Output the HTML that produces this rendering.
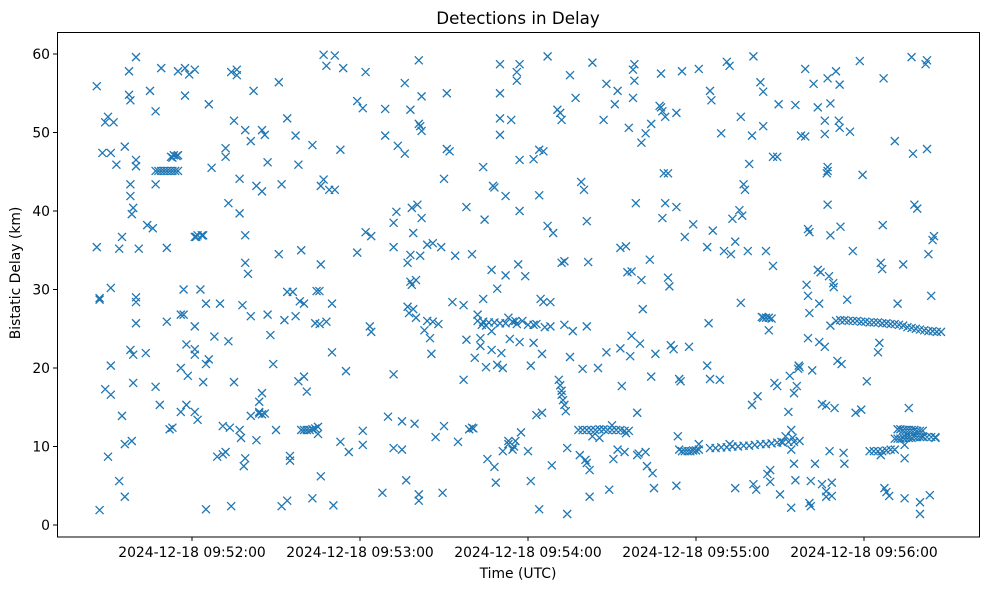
<!DOCTYPE html>
<html><head><meta charset="utf-8"><style>
html,body{margin:0;padding:0;background:#fff;}
svg{display:block;font-family:"DejaVu Sans","Liberation Sans",sans-serif;}
</style></head><body>
<svg id="chart" width="989" height="590" viewBox="0 0 989 590">
<rect x="0" y="0" width="989" height="590" fill="#fff"/>
<text x="518" y="24" font-size="16.7" text-anchor="middle">Detections in Delay</text>
<g id="marks"></g>
<rect x="57.5" y="32.5" width="922" height="504.5" fill="none" stroke="#000" stroke-width="1"/>
<g id="xaxis"></g>
<g id="yaxis"></g>
<text x="518" y="578" font-size="13.9" text-anchor="middle">Time (UTC)</text>
<text transform="translate(20,273) rotate(-90)" font-size="13.9" text-anchor="middle">Bistatic Delay (km)</text>
</svg>
<script>
// seconds after 09:51:00 for x tick positions
const xTickSeconds = [60, 120, 180, 240, 300];
const xTickLabels = ["2024-12-18 09:52:00","2024-12-18 09:53:00","2024-12-18 09:54:00","2024-12-18 09:55:00","2024-12-18 09:56:00"];
const yTickValues = [0, 10, 20, 30, 40, 50, 60];
// detections: [seconds after 09:51:00, bistatic delay km]
const detections = [
[26,55.9],[26,35.4],[27,28.9],[27,28.7],[27,1.9],[29,17.3],[29,51.3],[28,47.4],[30,52],[31,47.4],[30,8.7],[32,51.3],[31,30.2],[31,16.6],[31,20.3],[33,45.9],[34,35.2],[35,36.7],[34,5.6],[35,13.9],[36,48.2],[36,3.6],[36,10.3],[37.5,57.8],[37.5,54.8],[38,54.1],[38,22.3],[38,41.9],[38.5,10.7],[38,43.4],[38.5,39.6],[39,40.4],[39,18.1],[39,21.7],[40,59.6],[40,29],[40,25.7],[40,28.4],[40,46.5],[40,45.7],[41,35.2],[43.5,21.9],[44,38.2],[45,55.3],[46,37.8],[47,52.7],[47,45.1],[47,43.4],[47,17.6],
[48,45.1],[49,45.1],[50,45.1],[51,45.1],[52,45.1],[53,45.1],[54,45.1],[55,45.1],[53,46.8],[54.5,47],
[48.5,15.3],[49,58.2],[51,35.3],[51,25.9],[52,12.2],[52.5,46.9],[53,12.4],[53.5,47.1],[55,57.8],[55,47.1],[56,20],[56,26.8],[56,14.4],[57,30],[57,26.8],[57.5,54.7],[57.5,58.2],[58,23],[58,15.3],[58.5,19],[59,57.4],[61,58],[61,22.4],[61,25.3],[61,21.7],[61,14.4],[61,36.7],[61.5,36.7],[62,36.9],[62,13.4],[63,30],[63.5,36.9],[64,36.9],[64,18.2],[65,2],[65,20.5],[65,28.2],[66,53.6],[66,21.1],[67,45.5],[68,24],[69,8.7],[70,28.2],[71,12.6],[71,9],[72,9.3],[72,46.9],[72,48],[73,41],[73,23.4],[73.5,12.4],[74,57.7],[74,2.4],[75,18.2],[75,51.5],[76,57.3],[76,58],[77,39.7],[77,44.1],[77,12.1],[77.5,11.1],[78,28],[78.5,7.5],[79,50.3],[79,8.5],[79,33.4],[79,36.9],[80,32],[81,13.9],[81,48.9],[81,26.6],[82,55.3],[83,10.8],[83,43.2],[84,15.7],[84,14.4],[85,50.3],[85,14.1],[85,16.8],[85,42.5],[86,49.7],[84,14.2],[86,14.2],[87,46.2],[87,26.8],[88,24.2],[89,20.5],[90,12.1],[91,34.5],[91,56.4],[92,43.4],[92,2.4],[93,26.1],[94,51.8],[94,3.1],[94,29.7],[95,8.8],[95,8.2],[96,29.7],[97,26.6],[97,49.6],[98,45.9],[98.5,28.5],[99,35],[98,18.3],
[99,12.1],[100,12.1],[101,12.1],[102,12.1],[103,12.2],[104,12.3],[105,12.5],
[100,18.9],[100,28.2],[101,17],[103,48.4],[103,3.4],[104,25.7],[104.5,29.8],[105,11.6],[105.5,29.8],[105.6,25.6],[106,6.2],[106,43.2],[106,33.2],[107,44],[107,59.9],[108,25.9],[108,58.5],[109,42.7],[110,28.2],[110,22],[110.5,2.5],[111,42.7],[111,59.8],[113,47.8],[113,10.6],[114,58.2],[115,19.6],[116,9.3],[119,34.7],[119,54],[121,53.1],[121,10.2],[121,12],[122,57.7],[122,37.3],[123.5,25.3],[124,24.6],[124,36.8],[128,4.1],[129,49.6],[129,53],[130,13.8],[132,19.2],[132,9.8],[132,35.4],[132,38.5],[133,39.9],[133.5,48.3],[135,9.6],[135,13.2],[136,47.3],[136,56.3],[136.5,5.7],[137,27.8],[137,33.4],[137.5,27],[138,52.9],[138,34.4],[138,31],[138.5,30.6],[138.5,40.4],[139,37.2],[139,27.5],[139.5,12.9],[140,31.2],[140,26.4],[140.5,40.8],[141,51.1],[141,3.9],[141,3.1],[141,59.2],[141.5,34.3],[141.5,50.8],[142,50.2],[142,39.1],[142,54.6],[143,24.8],[144,35.7],[144,26],[145,23.8],[145.5,21.8],[146,35.9],[146,25.9],[147,11.2],[148,25.6],[149,35.4],[149.5,4.1],[150,44.1],[150,12.6],[151,55],[151,47.9],[152,47.6],[153,28.4],[154,34.3],[155,10.6],[157,28],[157,18.5],[158,40.5],[158,23.6],
[159,12.2],[160,12.4],[160.5,12.3],[160,34.5],[161,21.3],[162,26.8],[163,22.8],[163,23.8],[163.5,25.5],[164,45.6],[164,28.8],[164.5,38.9],[165,25.4],[165,20.1],[165.5,8.4],[167,22.3],[167,32.5],[167,24.7],[167.5,43.2],[168,43],[168,7.4],[168.5,5.4],[169,20.4],[169,30.1],[170,55],[170,58.7],[170,51.8],[170,49.7],[170.5,21.9],[171,9.4],[171,20],[172,31.8],[172,41.9],[173,26.4],[173,10.7],[173,10.3],[173.5,23.7],[174,51.6],[174.5,25.9],[174.5,9.6],[175,10],[175.5,26],[175.5,10.7],[176,56.6],[176,57.7],[176.5,33.2],[177,46.5],[177,58.7],[177,40],[177,23.3],[177.5,11.8],[178,26],[179,31.7],[180,9.4],[181,5.6],[181,20.3],[182,23.2],[182,46.6],[183,25.6],[183,14],[184,42],[184,2],[184,47.8],[184.5,28.8],[185,21.8],[185,14.3],[185.5,47.6],[185.5,28.4],[186,25.2],[187,38.1],[187,59.7],[188,28.4],[188,25.3],[188.5,7.6],[189,37.2],
[162,26],[164,25.9],[166,25.8],[168,25.8],[170,25.7],[172,25.7],[176,25.6],[180,25.5],[182,25.5],
[190.5,52.9],[191,18.5],[191.5,52.5],[191.5,17.8],[192,17.1],[192,51.6],[192,16.6],[192,33.4],[192.5,15.9],[193,15.3],[193,33.6],[193,25.5],[193.5,14.5],[194,9.8],[194,1.4],[195,57.3],[195,21.4],[196,24.7],[197,54.4],
[198,12.1],[199.5,12.1],[201,12.1],[202.5,12.1],[204,12.1],[205.5,12.2],[207,12.2],[208.5,12.1],[210,12.1],[211.5,12.1],[213,12.1],[214.5,12],[216,12],
[198.5,8.9],[199,43.7],[199.5,19.9],[200,42.7],[200.5,8.3],[201,7.9],[201,38.7],[201.5,33.5],[201,25.3],[202,7],[202,3.6],[203,58.9],[203,11.3],[205,20],[205.5,11.1],[207,51.6],[208,56.2],[208,22],[209,4.5],[210,12.7],[210.5,8.4],[212,9.6],[211,53.6],[212,55.3],[213,22.5],[213,35.3],[213.5,17.7],[214.5,9.3],[215,11.7],[215,35.5],[215.5,32.2],[216,50.6],[216.5,21.5],[217,24.1],[217,32.3],[217.5,54.4],[217.5,58],[218,58.7],[218,56.6],[218.5,41],[219,8.9],[219,14.3],[219.5,9.1],[220,23.1],[220.5,48.7],[220.5,31.2],[222,49.9],[221,27.5],[222,9.3],[222.5,7.5],[223.5,33.8],[224,18.9],[224,51.1],[224.5,6.6],[225,4.7],[225.5,21.8],[227,53.4],[227.5,57.5],[227.5,53.2],[228,39.1],[228,52.7],[228.5,44.8],[229,52],[229,41],[230,44.8],[230,31.5],[230.5,30.4],[231,22.9],[232,22.4],[233,52.5],[233,40.5],[233,5],[233.5,11.3],[234,18.6],[234,9.6],[234.5,18.3],[235,57.8],
[235,9.4],[236,9.4],[237,9.4],[238,9.4],[239,9.5],[240,9.5],[241,9.6],
[236,36.7],[237.5,22.7],[239,38.3],[241,10.3],[241,58.1],[244,20.3],[244,35.4],[244.5,25.7],[245,18.6],[245,55.3],[245.5,54.1],[246,37.5],[248.5,18.5],[249,49.9],[250,34.9],
[245,9.8],[247,9.8],[249,9.9],[251,9.9],[253,10],[255,10],[257,10.1],[259,10.1],[261,10.2],[263,10.3],[265,10.3],[267,10.4],[269,10.5],[271,10.5],[273,10.6],[275,10.6],[277,10.7],
[251,59],[252,10.3],[252,58.5],[252.5,34.5],[253,39],[254,36.1],[254,4.7],[255.5,40.1],[256,52],[256,28.3],[256.5,39.4],[257,43.4],[257.5,42.7],[258.5,34.9],[259,46],[260,15.3],[260,49.6],[260.5,59.7],[260.5,5.2],[261.5,4.5],[262,16.4],[263,56.4],[263.5,26.5],[264,50.8],[264,55.2],[264,26.4],[265,26.4],[266,26.4],[267,26.3],[265,34.9],[265.5,6.5],[266,24.8],[266.5,7],[266.5,5.5],[267.5,33],[267.5,46.9],[268,18.1],[269,17.7],[269,46.9],[269.5,53.6],[270,3.9],[270.5,10.6],[272,11.3],[273,14.4],[273.5,19],[274,12.1],[274,2.2],[274,9.6],[274.5,11.1],[275,16.8],[275,7.8],[275.5,53.5],[275.5,5.7],[276,17.7],[276.5,19.9],[276.7,20.3],[277,20.1],[277.5,49.6],[279,49.5],[279,58.1],[279.5,30.6],[280,29.2],[280,37.7],[280,23.8],[280.5,2.8],[280.5,37.3],[280.5,27],[281,2.4],[281,5.6],[281.5,19.7],[282,56.2],[282.5,7.8],[283.5,32.5],[283.5,53.2],[284,23.3],[284,28.2],[284.5,32.2],[285,5.2],[285,15.4],[286,51.5],[286,49.8],[286,22.7],[286.5,15.2],[286.5,4.3],[286.5,3.6],[286.7,44.8],[287,56.9],[287,45.6],[287,45.1],[287,40.8],[287.5,31.7],[287.7,9.4],[288,36.9],[288,25.4],[288,53.7],[288.5,5.4],[288.5,3.7],[289,30.8],[289.2,30.3],[289.5,14.9],[290,57.8],[290.5,20.9],[291,51.5],[291.3,50.6],[291.3,56.1],[291.6,38],[292,20.5],[292.7,9.2],[293,7.8],[294,28.7],[295,50.1],[296,34.9],
[290,26],[291.5,26.1],[293,26.1],[294.5,26],[296,26],[297.5,26],[299,25.9],[300.5,25.9],[302,25.8],[303.5,25.8],[305,25.8],[306.5,25.7],[308,25.7],[309.5,25.6],[311,25.6],[312.5,25.5],[314,25.4],[315.5,25.2],[317,25.1],[318.5,25],[320,24.9],[321.5,24.8],[323,24.7],[324.5,24.7],[326,24.6],[327.5,24.6],
[297,14.3],[298.5,59.1],[299,14.7],[299.5,44.6],[301,18.3],
[302,9.4],[303.5,9.4],[305,9.4],[306.5,9.4],[308,9.5],[309.5,9.6],[311,9.6],
[305,22],[305.5,23.2],[306,33.4],[306,8.9],[306.5,32.6],[306.7,38.2],[307,56.9],[307.3,4.7],[308,4.2],[309,3.7],[311,48.9],[312,28.2],[314,33.2],[314.5,3.4],[314.5,8.5],[314.5,10.2],[316,14.9],[317,59.6],[317.5,47.3],[318,40.8],[319,40.3],[320,2.9],[320,1.4],[321,11.3],[322,58.7],[322.5,59.2],[322.5,47.9],[323,34.5],[323.5,3.8],[324,29.2],[324.5,36.3],[325,36.8],[325.5,11.1],
[312,12.2],[313,12.2],[314,12.1],[315,12.1],[316,12.1],[317,12.1],[318,12.1],[319,12],[320,12],[321,12],
[311,11],[312,11],[313,11],[314,11.1],[315,11.1],[316,11.1],[317,11.1],[318,11.2],[319,11.2],[320,11.2],[321,11.2],[322.5,11.2],[324,11.2],[325.5,11.2]
];

const NS = "http://www.w3.org/2000/svg";
function xScale(t){ return 192 + (t - 60) * 2.8; }
function yScale(v){ return 525 - v * 7.85; }

const marks = document.getElementById('marks');
let pathD = "";
const r = 4;
detections.forEach(function(d){
  const cx = xScale(d[0]), cy = yScale(d[1]);
  pathD += "M" + (cx - r) + " " + (cy - r) + "L" + (cx + r) + " " + (cy + r) +
           "M" + (cx - r) + " " + (cy + r) + "L" + (cx + r) + " " + (cy - r);
});
const p = document.createElementNS(NS, 'path');
p.setAttribute('d', pathD);
p.setAttribute('stroke', '#1f77b4');
p.setAttribute('stroke-width', '1.3');
p.setAttribute('fill', 'none');


marks.appendChild(p);

const xaxis = document.getElementById('xaxis');
xTickSeconds.forEach(function(t, i){
  const x = xScale(t);
  const tick = document.createElementNS(NS, 'line');
  tick.setAttribute('x1', x); tick.setAttribute('x2', x);
  tick.setAttribute('y1', 537); tick.setAttribute('y2', 541);
  tick.setAttribute('stroke', '#000');
  
  
  xaxis.appendChild(tick);
  const lab = document.createElementNS(NS, 'text');
  lab.setAttribute('x', x); lab.setAttribute('y', 557);
  lab.setAttribute('font-size', '13.9'); lab.setAttribute('text-anchor', 'middle');
  lab.textContent = xTickLabels[i];
  
  
  xaxis.appendChild(lab);
});

const yaxis = document.getElementById('yaxis');
yTickValues.forEach(function(v){
  const y = yScale(v);
  const tick = document.createElementNS(NS, 'line');
  tick.setAttribute('x1', 53); tick.setAttribute('x2', 57.5);
  tick.setAttribute('y1', y); tick.setAttribute('y2', y);
  tick.setAttribute('stroke', '#000');
  
  
  yaxis.appendChild(tick);
  const lab = document.createElementNS(NS, 'text');
  lab.setAttribute('x', 50); lab.setAttribute('y', y + 5);
  lab.setAttribute('font-size', '13.9'); lab.setAttribute('text-anchor', 'end');
  lab.textContent = String(v);
  
  
  yaxis.appendChild(lab);
});
</script>
</body></html>
